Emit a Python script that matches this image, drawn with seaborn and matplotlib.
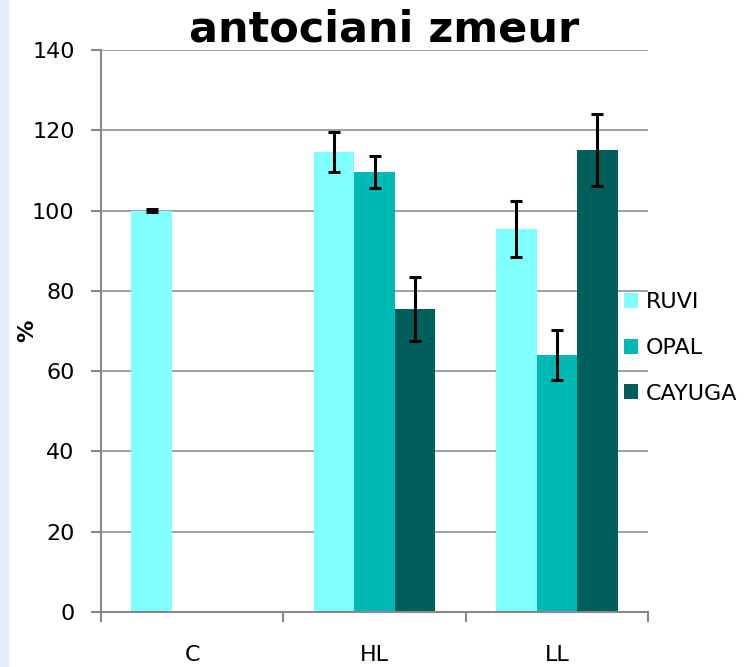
import matplotlib
matplotlib.use('Agg')
import matplotlib.pyplot as plt
import seaborn as sns
import pandas as pd
from matplotlib.patches import Patch, Rectangle

categories = ['C', 'HL', 'LL']
series = ['RUVI', 'OPAL', 'CAYUGA']
ruvi = [100, 114.5, 95.5]
opal = [0, 109.5, 64]
cayuga = [0, 75.5, 115]
ruvi_err = [0.3, 5, 7]
opal_err = [0, 4, 6.2]
cayuga_err = [0, 8, 9]
colors = ['#7FFFFF', '#00B9B4', '#005E5B']
yticks = [0, 20, 40, 60, 80, 100, 120, 140]
title = 'antociani zmeur'
ylabel = '%'

sns.set_theme(style='white')
plt.rcParams['font.family'] = ['DejaVu Sans']
plt.rcParams['text.color'] = 'black'
plt.rcParams['axes.labelcolor'] = 'black'

values = [ruvi, opal, cayuga]
errors = [ruvi_err, opal_err, cayuga_err]
rows = []
for s, vals in zip(series, values):
    for c, v in zip(categories, vals):
        rows.append({'cat': c, 'series': s, 'val': v})
df = pd.DataFrame(rows)

fig = plt.figure(figsize=(7.49, 6.67), dpi=100)
fig.patches.append(Rectangle((0, 0), 9 / 749, 1, transform=fig.transFigure,
                             facecolor='#E3ECF7', edgecolor='none', zorder=0))
ax = fig.add_axes([101 / 749, 55 / 667, 547 / 749, 562 / 667])

sns.barplot(data=df, x='cat', y='val', hue='series', order=categories,
            hue_order=series, palette=colors, width=0.667, gap=0,
            errorbar=None, linewidth=0, saturation=1, legend=False, ax=ax)

for cont, errs, vals in zip(ax.containers, errors, values):
    for bar, e, v in zip(cont, errs, vals):
        if v == 0:
            continue
        xc = bar.get_x() + bar.get_width() / 2
        ax.errorbar(xc, bar.get_height(), yerr=e, fmt='none', ecolor='black',
                    elinewidth=2.2, capsize=4.5, capthick=2.2, zorder=5)

ax.set_xlim(-0.5, 2.5)
ax.set_ylim(0, 140)
ax.set_yticks(yticks)
ax.set_yticklabels([str(t) for t in yticks])
ax.set_xticks([-0.5, 0.5, 1.5, 2.5])
ax.set_xticklabels([])
ax.set_xticks([0, 1, 2], minor=True)
ax.set_xticklabels(categories, minor=True)
ax.tick_params(axis='x', which='major', length=7, width=1.5, color='#888888', direction='out', bottom=True)
ax.tick_params(axis='x', which='minor', length=0, pad=24, labelsize=16, labelcolor='black')
ax.tick_params(axis='y', length=7, width=1.5, color='#888888', direction='out', left=True,
               pad=12, labelsize=16, labelcolor='black')
ax.set_xlabel('')
ax.set_ylabel(ylabel, fontsize=16, fontweight='bold', labelpad=-4, color='black')

ax.yaxis.grid(True, color='#999999', linewidth=1.3)
ax.set_axisbelow(True)
for side in ['top', 'right']:
    ax.spines[side].set_visible(False)
for side in ['left', 'bottom']:
    ax.spines[side].set_color('#888888')
    ax.spines[side].set_linewidth(1.5)

fig.text(384 / 749, 1 - 29 / 667, title, ha='center', va='center',
         fontsize=31, fontweight='bold', color='black')

handles = [Patch(facecolor=c, edgecolor='none', label=s) for s, c in zip(series, colors)]
leg = fig.legend(handles=handles, loc='center left', bbox_to_anchor=(624 / 749, 1 - 348 / 667),
                 frameon=False, fontsize=16, handlelength=0.65, handleheight=0.65,
                 handletextpad=0.35, labelspacing=1.15, borderpad=0, borderaxespad=0)
for t in leg.get_texts():
    t.set_color('black')

fig.savefig('out.png', dpi=100)
